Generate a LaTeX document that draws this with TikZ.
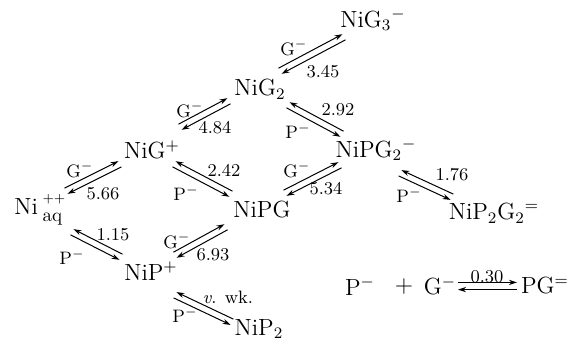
\documentclass[tikz,border=0pt]{standalone}
\usetikzlibrary{arrows.meta,calc}
\newcommand\equp[3]{% upper line points to #2, lower line points to #1
  \draw[half] ($(#1)!#3!90:(#2)$) -- ($(#2)!#3!-90:(#1)$);
  \draw[half] ($(#2)!#3!90:(#1)$) -- ($(#1)!#3!-90:(#2)$);
}
\newcommand\eqdn[3]{% lower line points to #2, upper line points to #1
  \draw[half] ($(#1)!#3!-90:(#2)$) -- ($(#2)!#3!90:(#1)$);
  \draw[half] ($(#2)!#3!-90:(#1)$) -- ($(#1)!#3!90:(#2)$);
}
\begin{document}
\begin{tikzpicture}[x=0.5pt,y=-0.5pt,
  sp/.style={inner sep=0pt, font=\fontsize{11.7}{13}\selectfont},
  lb/.style={inner sep=0pt, font=\fontsize{9}{10}\selectfont},
  half/.style={line width=0.5pt, -{Stealth[length=4pt,width=2.6pt]}}]
\useasboundingbox (0,0) rectangle (569,345);
% species
\node[sp] (g3)   at (373,20)  {NiG$_3{}^-$};
\node[sp] (g2)   at (260,89)  {NiG$_2$};
\node[sp] (g1)   at (152,150) {NiG$^+$};
\node[sp] (pg2)  at (376,150) {NiPG$_2{}^-$};
\node[sp, anchor=base west] (ni) at (14,214)
  {Ni\hspace{2.3pt}\rlap{\raisebox{5.8pt}{\fontsize{6.5}{7}\selectfont ++}}\raisebox{-3.8pt}{\fontsize{9.5}{10}\selectfont aq}};
\node[sp] (pg)   at (262,209) {NiPG};
\node[sp] (p2g2) at (494,213) {NiP$_2$G$_2{}^=$};
\node[sp] (p1)   at (151,271) {NiP$^+$};
\node[sp] (p2)   at (259,329) {NiP$_2$};
\node[sp] (ep)   at (360,286) {P$^-$};
\node[sp] (eplus) at (404,286) {$+$};
\node[sp] (eg)   at (440,286) {G$^-$};
\node[sp] (epg)  at (545,286) {PG$^=$};
% arrow ends
\coordinate (a1s) at (66,191);  \coordinate (a1e) at (120,164);
\coordinate (a2s) at (180,127); \coordinate (a2e) at (229,101);
\coordinate (a3s) at (280,71);  \coordinate (a3e) at (344,37);
\coordinate (a4s) at (174,164); \coordinate (a4e) at (231,194);
\coordinate (a5s) at (288,105); \coordinate (a5e) at (342,134);
\coordinate (a6s) at (285,193); \coordinate (a6e) at (340,165);
\coordinate (a7s) at (400,173); \coordinate (a7e) at (452,197);
\coordinate (a8s) at (72,232);  \coordinate (a8e) at (121,257);
\coordinate (a9s) at (175,255); \coordinate (a9e) at (226,227);
\coordinate (a10s) at (175,295); \coordinate (a10e) at (232,322);
\coordinate (a11s) at (458,286); \coordinate (a11e) at (517,286);
\equp{a1s}{a1e}{1.6pt}
\equp{a2s}{a2e}{1.6pt}
\equp{a3s}{a3e}{1.6pt}
\eqdn{a4s}{a4e}{1.6pt}
\eqdn{a5s}{a5e}{1.6pt}
\equp{a6s}{a6e}{1.6pt}
\eqdn{a7s}{a7e}{1.6pt}
\eqdn{a8s}{a8e}{1.6pt}
\equp{a9s}{a9e}{1.6pt}
\eqdn{a10s}{a10e}{1.6pt}
\equp{a11s}{a11e}{1.8pt}
% labels
\node[lb] (l1a) at (80,170)  {G$^-$};
\node[lb] (l1b) at (103,194) {5.66};
\node[lb] (l2a) at (190,110) {G$^-$};
\node[lb] (l2b) at (215,128) {4.84};
\node[lb] (l3a) at (294,48)  {G$^-$};
\node[lb] (l3b) at (323,72)  {3.45};
\node[lb] (l4a) at (224,170) {2.42};
\node[lb] (l4b) at (186,193) {P$^-$};
\node[lb] (l5a) at (338,110) {2.92};
\node[lb] (l5b) at (298,131) {P$^-$};
\node[lb] (l6a) at (297,170) {G$^-$};
\node[lb] (l6b) at (326,189) {5.34};
\node[lb] (l7a) at (452,175) {1.76};
\node[lb] (l7b) at (409,195) {P$^-$};
\node[lb] (l8a) at (113,235) {1.15};
\node[lb] (l8b) at (72,257)  {P$^-$};
\node[lb] (l9a) at (177,241) {G$^-$};
\node[lb] (l9b) at (213,255) {6.93};
\node[lb] (l10a) at (228,297) {\textit{v}. wk.};
\node[lb] (l10b) at (185,315) {P$^-$};
\node[lb] (l11) at (487,277) {0.30};
\end{tikzpicture}
\end{document}
